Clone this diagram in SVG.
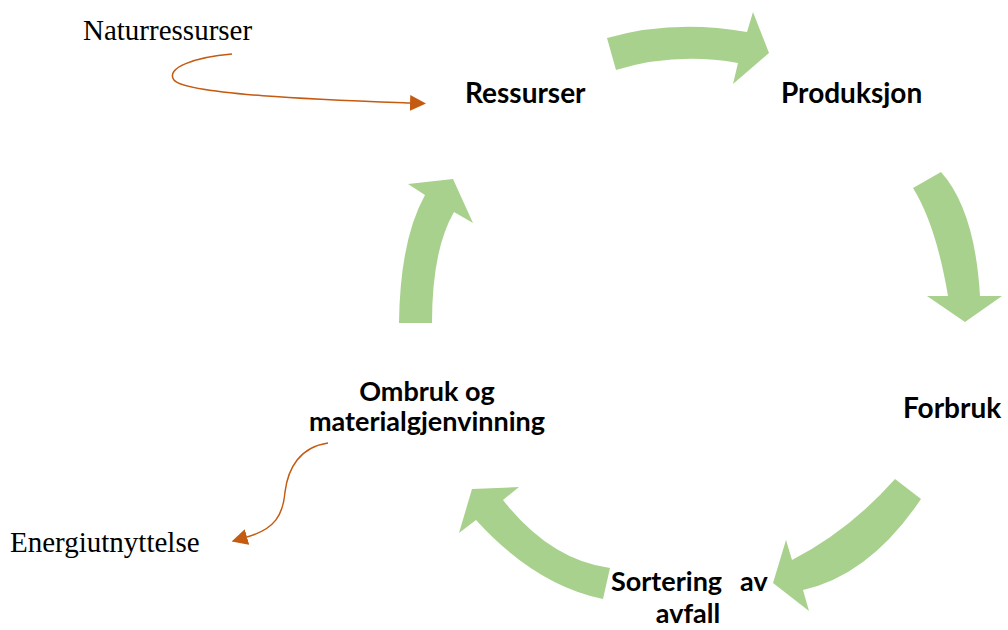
<svg xmlns="http://www.w3.org/2000/svg" width="1008" height="630" viewBox="0 0 1008 630">
<style>
.lbl{font-family:Lato,"Open Sans","Liberation Sans",sans-serif;font-weight:bold;font-size:28px;fill:#000}
.sm{font-size:27px}
.ser{font-family:"Liberation Serif","Times New Roman",serif;font-size:29px;fill:#000}
.cyc{fill:#a9d18e;stroke:none}
.orn{fill:none;stroke:#c55a11;stroke-width:1.5}
</style>
<defs>
<marker id="oh" viewBox="0 0 10 10" refX="0" refY="5" markerWidth="16" markerHeight="16" markerUnits="userSpaceOnUse" orient="auto">
<path d="M0,0 L10,5 L0,10 z" fill="#c55a11"/>
</marker>
</defs>
<rect width="1008" height="630" fill="#fff"/>
<g id="connectors">
<path class="cyc" d="M607,38 Q673,19 747,32 L753,12 L769,53 L733,84 L738,63 Q675,52 616,70 Z"/>
<path class="cyc" d="M913,188 Q936,225 948,296 L927,296 L965,322 L1002,296 L980,296 Q975,210 941,172 Z"/>
<path class="cyc" d="M895,479 Q850,530 792,560 L786,540 L773,583 L809,611 L803,590 Q870,575 921,499 Z"/>
<path class="cyc" d="M610,568 Q550,560 503,500 L519,487 L472,489 L459,533 L476,520 Q535,585 603,599 Z"/>
<path class="cyc" d="M399,323 Q400,240 425,195 L408,184 L453,179 L473,223 L454,212 Q432,250 432,323 Z"/>
<path class="orn" marker-end="url(#oh)" d="M232,54 C195,57 165,68 174,80 C186,95 330,100 410,103"/>
<path class="orn" marker-end="url(#oh)" d="M328,443 C300,447 288,468 285,492 C283,515 275,529 247,537"/>
</g>
<g id="naturressurser"><text class="ser" x="83" y="40">Naturressurser</text></g>
<g id="energiutnyttelse"><text class="ser" x="10" y="552">Energiutnyttelse</text></g>
<g id="ressurser"><text class="lbl" x="465" y="103">Ressurser</text></g>
<g id="produksjon"><text class="lbl" x="781" y="103">Produksjon</text></g>
<g id="forbruk"><text class="lbl" x="903" y="418">Forbruk</text></g>
<g id="sortering"><text class="lbl sm" y="591"><tspan x="611">Sortering</tspan><tspan x="740">av</tspan><tspan x="688" y="623" text-anchor="middle">avfall</tspan></text></g>
<g id="ombruk"><text class="lbl sm" text-anchor="middle" x="427" y="401">Ombruk og<tspan x="427" y="431">materialgjenvinning</tspan></text></g>
</svg>
